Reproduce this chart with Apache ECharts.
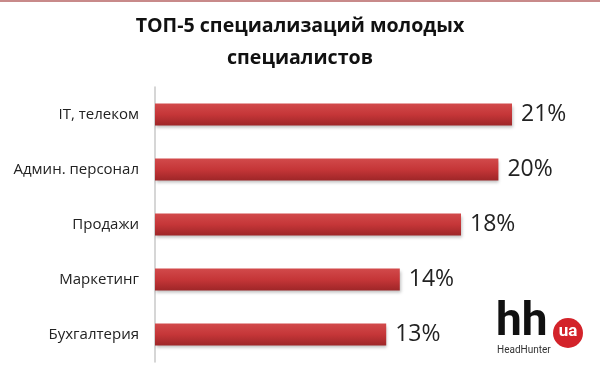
<!DOCTYPE html>
<html>
<head>
<meta charset="utf-8">
<script src="https://cdn.jsdelivr.net/npm/echarts@6/dist/echarts.min.js"></script>
<style>
  html, body { margin: 0; padding: 0; background: #fff; }
  #container { width: 600px; height: 376px; }
</style>
</head>
<body>
<div id="container"></div>
<script>
var categories = ['IT, телеком', 'Админ. персонал', 'Продажи', 'Маркетинг', 'Бухгалтерия'];
// bar lengths
var values = [21.0, 20.2, 18.0, 14.4, 13.6];
// the labels printed next to the bars
var labels = ['21%', '20%', '18%', '14%', '13%'];

var dom = document.getElementById("container");
var myChart = echarts.init(dom);
var option = {
    backgroundColor: '#fff',
    title: {
        text: 'ТОП-5 специализаций молодых\nспециалистов',
        left: 'center',
        top: 5,
        textStyle: {
            fontFamily: 'Open Sans',
            fontWeight: 'bold',
            fontSize: 19.6,
            lineHeight: 32,
            color: '#111'
        }
    },
    grid: {
        left: 155,
        top: 87,
        width: 425,
        height: 275
    },
    xAxis: {
        type: 'value',
        min: 0,
        max: 25,
        show: false
    },
    yAxis: {
        type: 'category',
        inverse: true,
        data: categories,
        axisLine: { lineStyle: { color: '#c8c8c8', width: 1.5 } },
        axisTick: { show: false },
        axisLabel: {
            fontFamily: 'Open Sans',
            fontSize: 15,
            color: '#222',
            margin: 16
        }
    },
    series: [
        {
            type: 'bar',
            data: values,
            barWidth: 22,
            itemStyle: {
                color: new echarts.graphic.LinearGradient(0, 0, 0, 1, [
                    { offset: 0, color: '#d24a4b' },
                    { offset: 0.5, color: '#c53638' },
                    { offset: 1, color: '#9e2628' }
                ]),
                shadowColor: 'rgba(0,0,0,0.25)',
                shadowBlur: 3,
                shadowOffsetX: 1,
                shadowOffsetY: 2
            },
            label: {
                show: true,
                position: 'right',
                distance: 9,
                formatter: function (p) { return labels[p.dataIndex]; },
                fontFamily: 'Open Sans',
                fontSize: 23,
                color: '#222'
            }
        }
    ],
    graphic: [
        {
            type: 'rect',
            shape: { x: 0, y: 0, width: 600, height: 2 },
            style: { fill: '#c88a8a' }
        },
        {
            type: 'text',
            left: 496,
            top: 300,
            style: {
                text: 'hh',
                font: 'bold 46px Roboto',
                fill: '#111'
            }
        },
        {
            type: 'circle',
            shape: { cx: 568, cy: 333, r: 15 },
            style: { fill: '#d3232a' }
        },
        {
            type: 'text',
            x: 568,
            y: 332,
            style: {
                text: 'ua',
                font: 'bold 17px Roboto',
                fill: '#fff',
                align: 'center',
                verticalAlign: 'middle'
            }
        },
        {
            type: 'text',
            left: 497,
            top: 345,
            style: {
                text: 'HeadHunter',
                font: '10px Roboto',
                fill: '#333'
            }
        }
    ]
};
myChart.setOption(option, true);
</script>
</body>
</html>
